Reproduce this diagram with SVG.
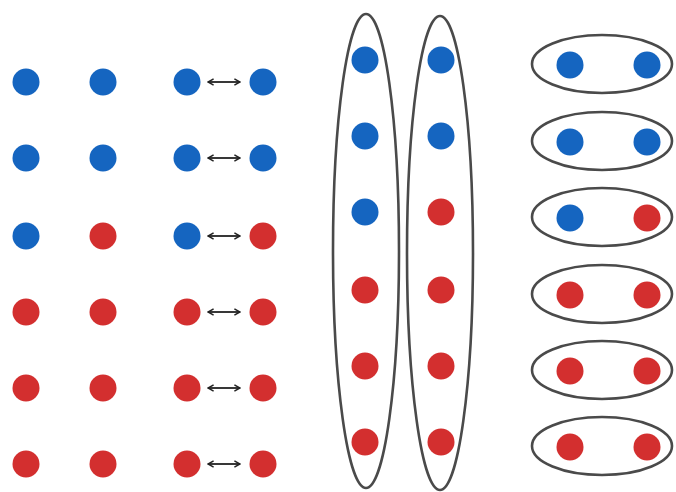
<svg xmlns="http://www.w3.org/2000/svg" width="676" height="492" viewBox="0 0 676 492">
<defs>
<marker id="ah" viewBox="0 0 10 10" refX="9" refY="5" markerWidth="8" markerHeight="8" orient="auto-start-reverse" markerUnits="userSpaceOnUse"><path d="M2,1 L9,5 L2,9" fill="none" stroke="#222" stroke-width="1.8"/></marker>
</defs>
<style>
.b{fill:#1565c0}
.r{fill:#d32f2f}
.e{fill:none;stroke:#4a4a4a;stroke-width:2.6}
.a{stroke:#222;stroke-width:1.8;fill:none}
</style>
<rect width="676" height="492" fill="#fff"/>
<g id="grid">
<circle class="b" cx="26" cy="82" r="13.5"/><circle class="b" cx="103" cy="82" r="13.5"/>
<circle class="b" cx="26" cy="158" r="13.5"/><circle class="b" cx="103" cy="158" r="13.5"/>
<circle class="b" cx="26" cy="236" r="13.5"/><circle class="r" cx="103" cy="236" r="13.5"/>
<circle class="r" cx="26" cy="312" r="13.5"/><circle class="r" cx="103" cy="312" r="13.5"/>
<circle class="r" cx="26" cy="388" r="13.5"/><circle class="r" cx="103" cy="388" r="13.5"/>
<circle class="r" cx="26" cy="464" r="13.5"/><circle class="r" cx="103" cy="464" r="13.5"/>
</g>
<g id="pairs">
<circle class="b" cx="187" cy="82" r="13.5"/><circle class="b" cx="263" cy="82" r="13.5"/>
<circle class="b" cx="187" cy="158" r="13.5"/><circle class="b" cx="263" cy="158" r="13.5"/>
<circle class="b" cx="187" cy="236" r="13.5"/><circle class="r" cx="263" cy="236" r="13.5"/>
<circle class="r" cx="187" cy="312" r="13.5"/><circle class="r" cx="263" cy="312" r="13.5"/>
<circle class="r" cx="187" cy="388" r="13.5"/><circle class="r" cx="263" cy="388" r="13.5"/>
<circle class="r" cx="187" cy="464" r="13.5"/><circle class="r" cx="263" cy="464" r="13.5"/>
</g>
<g id="connectors">
<line class="a" x1="208" y1="82" x2="240" y2="82" marker-start="url(#ah)" marker-end="url(#ah)"/>
<line class="a" x1="208" y1="158" x2="240" y2="158" marker-start="url(#ah)" marker-end="url(#ah)"/>
<line class="a" x1="208" y1="236" x2="240" y2="236" marker-start="url(#ah)" marker-end="url(#ah)"/>
<line class="a" x1="208" y1="312" x2="240" y2="312" marker-start="url(#ah)" marker-end="url(#ah)"/>
<line class="a" x1="208" y1="388" x2="240" y2="388" marker-start="url(#ah)" marker-end="url(#ah)"/>
<line class="a" x1="208" y1="464" x2="240" y2="464" marker-start="url(#ah)" marker-end="url(#ah)"/>
</g>
<g id="column1">
<ellipse class="e" cx="366" cy="251" rx="33" ry="237"/>
<circle class="b" cx="365" cy="60" r="13.5"/>
<circle class="b" cx="365" cy="136" r="13.5"/>
<circle class="b" cx="365" cy="212" r="13.5"/>
<circle class="r" cx="365" cy="290" r="13.5"/>
<circle class="r" cx="365" cy="366" r="13.5"/>
<circle class="r" cx="365" cy="442" r="13.5"/>
</g>
<g id="column2">
<ellipse class="e" cx="440" cy="253" rx="33" ry="237"/>
<circle class="b" cx="441" cy="60" r="13.5"/>
<circle class="b" cx="441" cy="136" r="13.5"/>
<circle class="r" cx="441" cy="212" r="13.5"/>
<circle class="r" cx="441" cy="290" r="13.5"/>
<circle class="r" cx="441" cy="366" r="13.5"/>
<circle class="r" cx="441" cy="442" r="13.5"/>
</g>
<g id="rowpairs">
<g id="rp1"><ellipse class="e" cx="602" cy="64" rx="70" ry="29"/><circle class="b" cx="570" cy="65" r="13.5"/><circle class="b" cx="647" cy="65" r="13.5"/></g>
<g id="rp2"><ellipse class="e" cx="602" cy="141" rx="70" ry="29"/><circle class="b" cx="570" cy="142" r="13.5"/><circle class="b" cx="647" cy="142" r="13.5"/></g>
<g id="rp3"><ellipse class="e" cx="602" cy="217" rx="70" ry="29"/><circle class="b" cx="570" cy="218" r="13.5"/><circle class="r" cx="647" cy="218" r="13.5"/></g>
<g id="rp4"><ellipse class="e" cx="602" cy="294" rx="70" ry="29"/><circle class="r" cx="570" cy="295" r="13.5"/><circle class="r" cx="647" cy="295" r="13.5"/></g>
<g id="rp5"><ellipse class="e" cx="602" cy="370" rx="70" ry="29"/><circle class="r" cx="570" cy="371" r="13.5"/><circle class="r" cx="647" cy="371" r="13.5"/></g>
<g id="rp6"><ellipse class="e" cx="602" cy="446" rx="70" ry="29"/><circle class="r" cx="570" cy="447" r="13.5"/><circle class="r" cx="647" cy="447" r="13.5"/></g>
</g>
</svg>
